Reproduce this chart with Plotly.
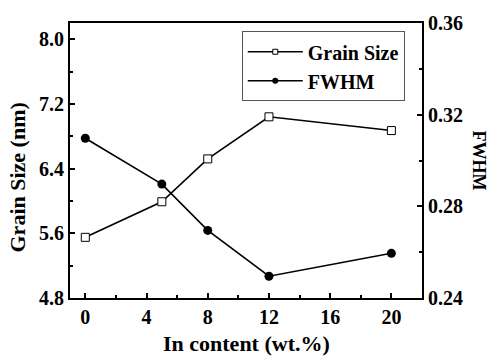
import plotly.graph_objects as go

in_content = [0, 5, 8, 12, 20]
grain_size = [5.55, 5.99, 6.52, 7.04, 6.87]
fwhm = [0.3097, 0.2897, 0.2695, 0.2495, 0.2595]

x_ticks = [0, 4, 8, 12, 16, 20]
y_ticks = [4.8, 5.6, 6.4, 7.2, 8.0]
y2_ticks = [0.24, 0.28, 0.32, 0.36]

FONT = "Times New Roman, Liberation Serif, serif"

fig = go.Figure()
fig.add_trace(go.Scatter(
    x=in_content, y=grain_size, name="Grain Size", mode="lines+markers",
    line=dict(color="black", width=1.6),
    marker=dict(symbol="square", size=8, color="white", line=dict(color="black", width=1)),
    yaxis="y", showlegend=False))
fig.add_trace(go.Scatter(
    x=in_content, y=fwhm, name="FWHM", mode="lines+markers",
    line=dict(color="black", width=1.6),
    marker=dict(symbol="circle", size=9, color="black"),
    yaxis="y2", showlegend=False))
# legend entries (smaller legend markers, as in the reference)
fig.add_trace(go.Scatter(
    x=[None], y=[None], name="<b>Grain Size</b>", mode="lines+markers",
    line=dict(color="black", width=1.6),
    marker=dict(symbol="square", size=5, color="white", line=dict(color="black", width=1))))
fig.add_trace(go.Scatter(
    x=[None], y=[None], name="<b>FWHM</b>", mode="lines+markers",
    line=dict(color="black", width=1.6),
    marker=dict(symbol="circle", size=6, color="black")))

tickfont = dict(family=FONT, size=20, color="black", weight="bold")
common = dict(showline=True, linecolor="black", linewidth=2, ticks="inside",
              ticklen=5, tickwidth=1.5, tickcolor="black", showgrid=False,
              zeroline=False, tickfont=tickfont)
minor = dict(ticks="inside", ticklen=3, tickcolor="black", tickwidth=1.5)

fig.update_layout(
    width=489, height=361,
    margin=dict(l=70, r=67, t=14, b=63),
    plot_bgcolor="white", paper_bgcolor="white",
    font=dict(family=FONT, color="black"),
    xaxis=dict(range=[-1, 22], tickmode="array", tickvals=x_ticks,
               ticktext=[f"<b>{v}</b>" for v in x_ticks], mirror=True,
               minor=dict(dtick=2, tick0=0, **minor), **common),
    yaxis=dict(range=[4.8, 8.2], tickmode="array", tickvals=y_ticks,
               ticktext=[f"<b>{v:.1f}</b>" for v in y_ticks],
               minor=dict(dtick=0.4, tick0=4.8, **minor), **common),
    yaxis2=dict(range=[0.24, 0.36], tickmode="array", tickvals=y2_ticks,
                ticktext=[f"<b>{v:.2f}</b>" for v in y2_ticks],
                overlaying="y", side="right",
                minor=dict(dtick=0.02, tick0=0.24, **minor), **common),
    legend=dict(x=0.488, y=0.97, xanchor="left", yanchor="top",
                bgcolor="white", bordercolor="#555", borderwidth=1,
                font=dict(family=FONT, size=20, color="black", weight="bold"),
                itemwidth=55, tracegroupgap=0),
    showlegend=True,
)

fig.add_annotation(text="<b>In content (wt.%)</b>", xref="paper", yref="paper",
                   x=0.5, y=0, yshift=-45, showarrow=False,
                   font=dict(family=FONT, size=22, color="black"),
                   xanchor="center", yanchor="middle")
fig.add_annotation(text="<b>Grain Size (nm)</b>", xref="paper", yref="paper",
                   x=0, y=0.5, xshift=-53, yshift=-17, showarrow=False,
                   font=dict(family=FONT, size=22, color="black"),
                   textangle=-90, xanchor="center", yanchor="middle")
fig.add_annotation(text="<b>FWHM</b>", xref="paper", yref="paper",
                   x=1, y=0.5, xshift=57, showarrow=False,
                   font=dict(family=FONT, size=18, color="black"),
                   textangle=90, xanchor="center", yanchor="middle")

fig.write_html("out.html")
